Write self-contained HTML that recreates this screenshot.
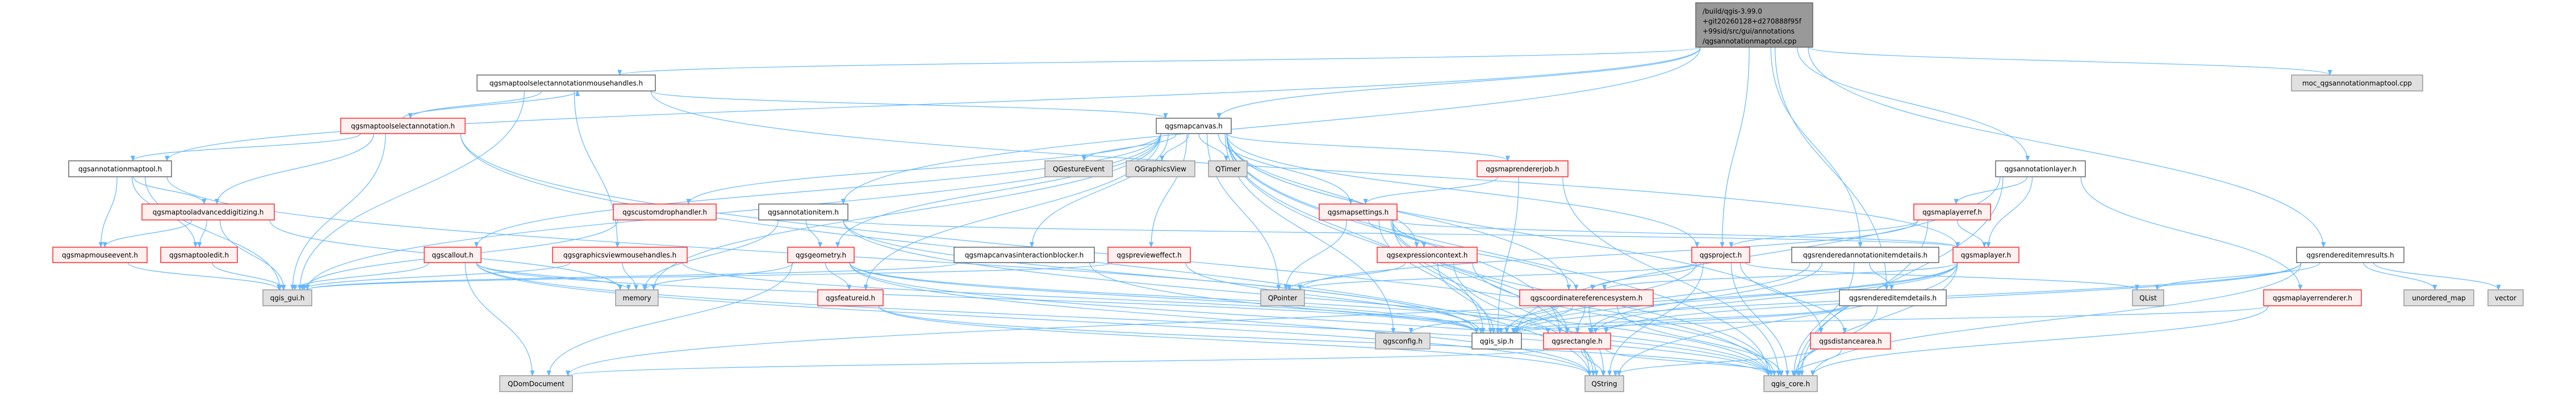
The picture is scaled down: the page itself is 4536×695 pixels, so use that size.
<!DOCTYPE html>
<html><head><meta charset="utf-8"><style>
html,body{margin:0;padding:0;background:#fff;width:4536px;height:695px;overflow:hidden}
svg{display:block}
text{font-family:"DejaVu Sans","Liberation Sans",sans-serif;font-size:12px;fill:#000}
</style></head><body>
<svg id="g" width="4536" height="695" viewBox="0 0 4536 695" xmlns="http://www.w3.org/2000/svg">
<defs><marker id="a" markerWidth="10" markerHeight="8" refX="9" refY="4" orient="auto" markerUnits="userSpaceOnUse"><path d="M0,0 L10,4 L0,8 z" fill="#63b8ff"/></marker></defs>
<g id="edges" fill="none" stroke="#63b8ff" stroke-width="1.2"></g>
<g id="nodes"></g>
</svg>
<script>
var N={
T:[2986,3192,5,83,"",3],
MH:[840,1154,132,160,"qgsmaptoolselectannotationmousehandles.h",0],
MOC:[4035,4266,132,160,"moc_qgsannotationmaptool.cpp",2],
SA:[600,819,208,235,"qgsmaptoolselectannotation.h",1],
MC:[2036,2168,208,235,"qgsmapcanvas.h",0],
AMT:[121,302,283,311,"qgsannotationmaptool.h",0],
GE:[1840,1959,283,311,"QGestureEvent",2],
GV:[1983,2104,283,311,"QGraphicsView",2],
QT:[2128,2196,283,311,"QTimer",2],
MRJ:[2601,2761,283,311,"qgsmaprendererjob.h",1],
AL:[3514,3672,283,311,"qgsannotationlayer.h",0],
AD:[250,483,359,387,"qgsmaptooladvanceddigitizing.h",1],
CDH:[1080,1261,359,387,"qgscustomdrophandler.h",1],
AI:[1336,1493,359,387,"qgsannotationitem.h",0],
MS:[2323,2460,359,387,"qgsmapsettings.h",1],
MLR:[3370,3505,359,387,"qgsmaplayerref.h",1],
MME:[93,259,435,462,"qgsmapmouseevent.h",1],
ME:[283,418,435,462,"qgsmaptooledit.h",1],
CO:[747,847,435,462,"qgscallout.h",1],
GVMH:[973,1210,435,462,"qgsgraphicsviewmousehandles.h",1],
GEO:[1387,1504,435,462,"qgsgeometry.h",1],
MCIB:[1680,1927,435,462,"qgsmapcanvasinteractionblocker.h",0],
PE:[1951,2096,435,462,"qgspreviewteffect.h",1],
EC:[2425,2601,435,462,"qgsexpressioncontext.h",1],
PR:[2979,3081,435,462,"qgsproject.h",1],
RAID:[3155,3414,435,462,"qgsrenderedannotationitemdetails.h",0],
ML:[3439,3555,435,462,"qgsmaplayer.h",1],
RIR:[4044,4233,435,462,"qgsrendereditemresults.h",0],
GUI:[463,549,510,538,"qgis_gui.h",2],
MEM:[1084,1159,510,538,"memory",2],
FID:[1440,1555,510,538,"qgsfeatureid.h",1],
QP:[2220,2297,510,538,"QPointer",2],
CRS:[2676,2911,510,538,"qgscoordinatereferencesystem.h",1],
RID:[3239,3427,510,538,"qgsrendereditemdetails.h",0],
QL:[3755,3810,510,538,"QList",2],
MLRR:[3986,4158,510,538,"qgsmaplayerrenderer.h",1],
UM:[4233,4356,510,538,"unordered_map",2],
VEC:[4381,4443,510,538,"vector",2],
CFG:[2422,2518,586,614,"qgsconfig.h",2],
SIP:[2592,2679,586,614,"qgis_sip.h",0],
RECT:[2718,2836,586,614,"qgsrectangle.h",1],
DA:[3188,3329,586,614,"qgsdistancearea.h",1],
QDD:[880,1008,661,689,"QDomDocument",2],
QS:[2791,2859,661,689,"QString",2],
CORE:[3106,3200,661,689,"qgis_core.h",2]
};
N.PE[4]="qgspreviewteffect.h".replace("previewt","preview");
var E="T-MH T-AMT T-MC T-AI T-PR T-RAID T-RID T-AL T-RIR T-MOC MH-SA SA-MH MH-GUI MH-MC MH-GVMH MH-ML SA-AMT SA-AD SA-GUI SA-QS SA-CORE AMT-AD AMT-MME AMT-ME AMT-GUI AMT-SIP AD-MME AD-ME AD-GUI AD-MEM MME-GUI ME-GUI CO-MEM CO-SIP CO-QS CO-CORE CO-QDD CO-GUI GVMH-GUI GVMH-MEM GVMH-SIP MC-GE MC-GV MC-QT MC-CDH MC-GEO MC-FID MC-MCIB MC-PE MC-MRJ MC-MS MC-EC MC-PR MC-GUI MC-MEM MC-QP MC-SIP MC-RECT MC-DA MC-CFG MC-CRS MC-QS MC-CORE MC-CO CDH-GUI AI-GEO AI-MEM AI-SIP AI-CORE AI-ML GEO-FID GEO-MEM GEO-QDD GEO-SIP GEO-RECT GEO-QS GEO-CORE MCIB-GUI MCIB-CORE PE-SIP PE-GUI MRJ-MS MRJ-SIP MRJ-CORE MS-QP MS-EC MS-CRS MS-SIP MS-RECT MS-QS MS-CORE MS-ML EC-QP EC-SIP EC-QS EC-CORE PR-CRS PR-QP PR-SIP PR-QS PR-CORE PR-QL PR-DA RAID-RID RAID-SIP RAID-RECT RAID-CORE RID-SIP RID-RECT RID-CORE ML-CRS ML-SIP ML-RECT ML-QDD ML-QS ML-CORE MLR-ML MLR-PR MLR-QP MLR-CORE AL-MLR AL-ML AL-MLRR AL-CORE AL-SIP RIR-QL RIR-UM RIR-VEC RIR-SIP RIR-RECT RIR-CORE MLRR-SIP MLRR-CORE CRS-SIP CRS-RECT CRS-QS CRS-CORE CRS-CFG RECT-QS RECT-CORE RECT-QDD DA-CORE DA-QS FID-CORE FID-QS".split(" ");
var ns="http://www.w3.org/2000/svg",eg=document.getElementById("edges"),ng=document.getElementById("nodes");
function cx(n){return (n[0]+n[1])/2}
E.forEach(function(e){var p=e.split("-"),s=N[p[0]],t=N[p[1]];if(!s||!t)return;var d;
 var sx=cx(s),tx=cx(t);
 if(t[2]>s[3]+5){var sy=s[3],ty=t[2];var off=(tx-sx)*0.15;sx=Math.max(s[0]+8,Math.min(s[1]-8,sx+off));tx=Math.max(t[0]+8,Math.min(t[1]-8,tx-off*0.3));var h=(ty-sy)*0.5;
   d="M"+sx+","+sy+" C"+sx+","+(sy+h)+" "+tx+","+(ty-h)+" "+tx+","+ty;}
 else if(t[3]<s[2]){d="M"+sx+","+s[2]+" C"+sx+","+(s[2]-20)+" "+(tx+20)+","+(t[3]+20)+" "+(tx+20)+","+t[3];}
 else {var ty2=(t[2]+t[3])/2,sy2=(s[2]+s[3])/2;if(tx<sx){d="M"+s[0]+","+sy2+" C"+(s[0]-60)+","+sy2+" "+(t[1]+60)+","+ty2+" "+t[1]+","+ty2;}else{d="M"+s[1]+","+sy2+" C"+(s[1]+60)+","+sy2+" "+(t[0]-60)+","+ty2+" "+t[0]+","+ty2;}}
 var pa=document.createElementNS(ns,"path");pa.setAttribute("d",d);pa.setAttribute("marker-end","url(#a)");eg.appendChild(pa);});
var st=[["#fff","#666"],["#fff0f0","#ff2a2a"],["#e0e0e0","#999"],["#999","#666"]];
for(var k in N){var n=N[k],r=document.createElementNS(ns,"rect");r.setAttribute("x",n[0]);r.setAttribute("y",n[2]);r.setAttribute("width",n[1]-n[0]);r.setAttribute("height",n[3]-n[2]);r.setAttribute("fill",st[n[5]][0]);r.setAttribute("stroke",st[n[5]][1]);r.setAttribute("stroke-width","1.5");ng.appendChild(r);
 if(k=="T"){["/build/qgis-3.99.0","+git20260128+d270888f95f","+99sid/src/gui/annotations","/qgsannotationmaptool.cpp"].forEach(function(l,i){var t=document.createElementNS(ns,"text");t.setAttribute("x",n[0]+12);t.setAttribute("y",24+i*17.5);t.textContent=l;ng.appendChild(t);});}
 else{var t=document.createElementNS(ns,"text");t.setAttribute("x",cx(n));t.setAttribute("y",(n[2]+n[3])/2+4.5);t.setAttribute("text-anchor","middle");t.textContent=n[4];ng.appendChild(t);}}
</script>
</body></html>
